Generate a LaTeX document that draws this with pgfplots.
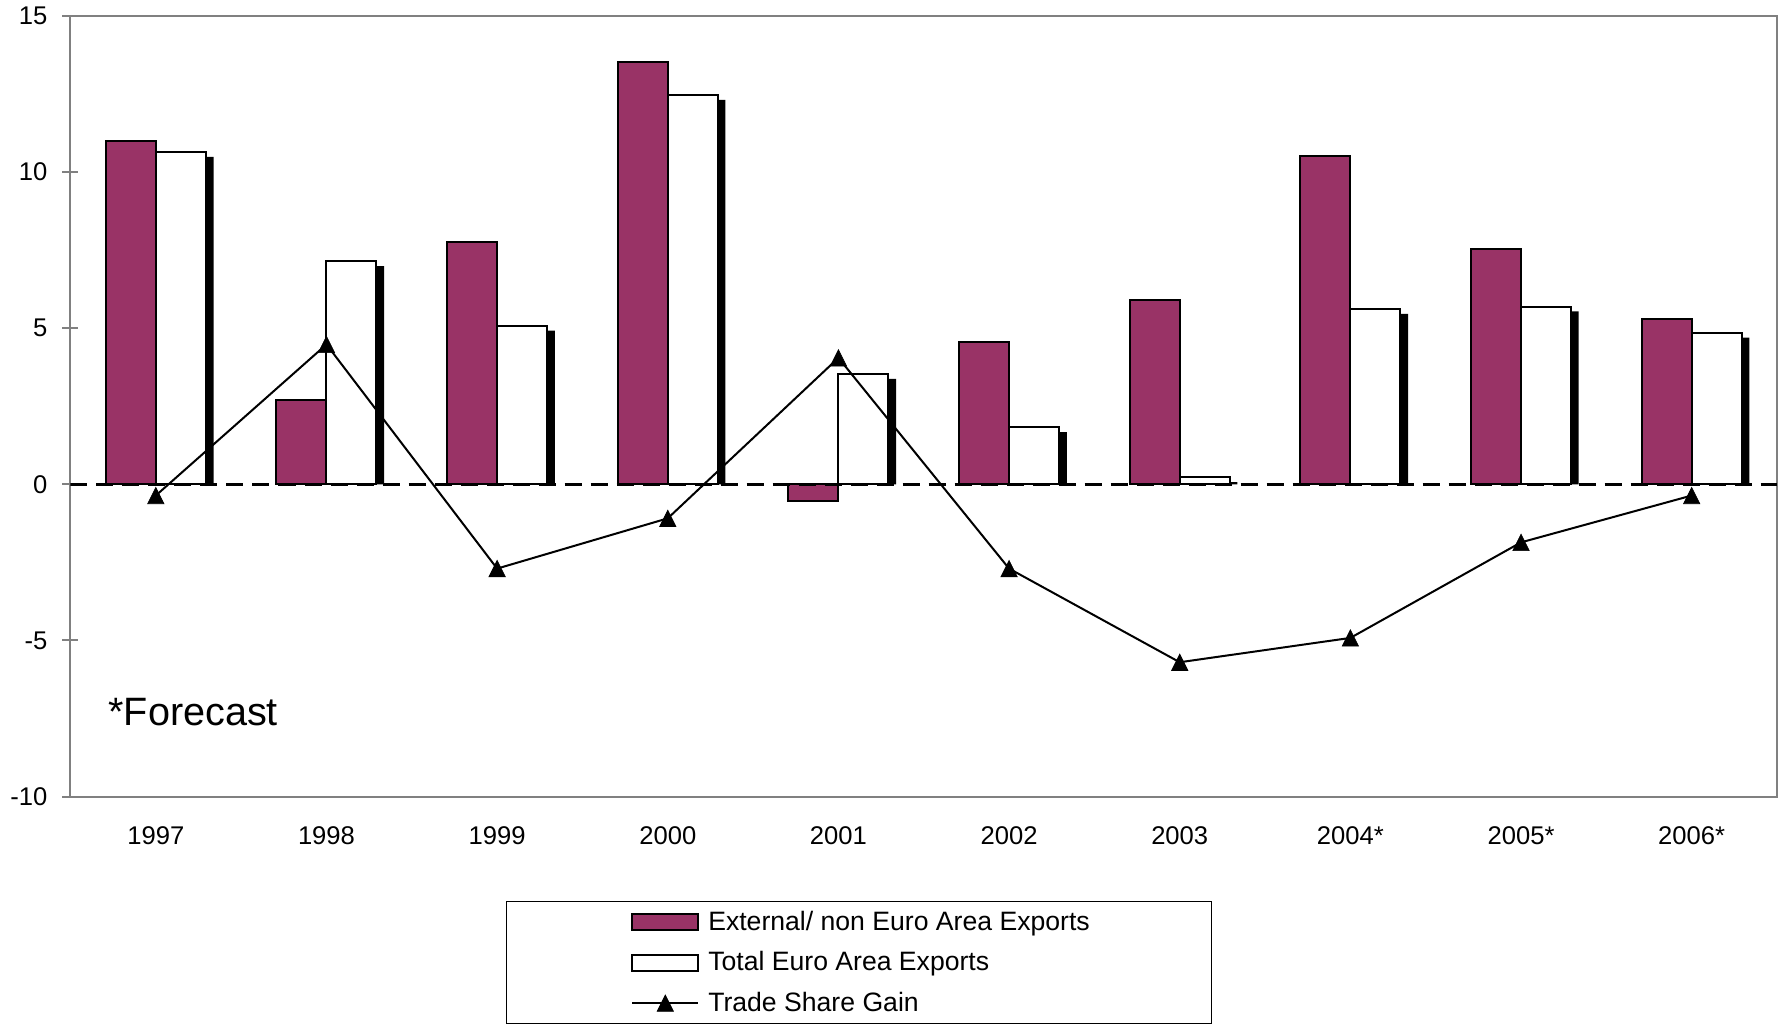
\documentclass[border=0pt]{standalone}
\usepackage{pgfplots}
\pgfplotsset{compat=1.18}
\usepackage{pgfplotstable}
\usepackage{fontspec}
\setmainfont{Liberation Sans}
\definecolor{plum}{RGB}{153,51,102}
\definecolor{axgray}{RGB}{128,128,128}

\pgfdeclareplotmark{xltri}{%
  \pgfpathmoveto{\pgfqpoint{0pt}{\pgfplotmarksize}}%
  \pgfpathlineto{\pgfqpoint{\pgfplotmarksize}{-\pgfplotmarksize}}%
  \pgfpathlineto{\pgfqpoint{-\pgfplotmarksize}{-\pgfplotmarksize}}%
  \pgfpathclose\pgfusepathqfillstroke}

\pgfplotsset{
  boxlegend/.style={legend image code/.code={\draw[##1] (0bp,-4bp) rectangle (33bp,4bp);}},
  linelegend/.style={legend image code/.code={\draw[mark repeat=2, mark phase=2, ##1] plot coordinates {(0bp,0bp) (16.5bp,0bp) (33bp,0bp)};}},
}

\pgfplotstableread{
x ext tot gain
0 11.00 10.64 -0.36
1 2.70 7.14 4.48
2 7.76 5.07 -2.70
3 13.52 12.46 -1.09
4 -0.55 3.53 4.05
5 4.56 1.82 -2.70
6 5.90 0.22 -5.70
7 10.53 5.61 -4.92
8 7.54 5.69 -1.86
9 5.28 4.85 -0.36
}\data

\begin{document}
\begin{tikzpicture}
\begin{axis}[
  scale only axis, width=853.25bp, height=390.25bp,
  xmin=-0.5, xmax=9.5, ymin=-10, ymax=15,
  xtick={0,...,9},
  xticklabels={1997,1998,1999,2000,2001,2002,2003,2004*,2005*,2006*},
  ytick={-10,-5,0,5,10,15},
  axis line style={axgray, line width=1bp},
  ytick pos=left, tick align=center, major tick length=8bp,
  y tick style={axgray, line width=1bp},
  x tick style={draw=none},
  tick label style={font=\fontsize{12.8bp}{15bp}\selectfont},
  xticklabel style={yshift=-7.5bp},
  yticklabel style={xshift=-4bp},
  /pgf/number format/assume math mode=true,
  legend style={at={(0.2552,-0.1339)}, anchor=north west, draw=black, line width=0.5bp,
    inner xsep=62.4bp, inner ysep=2.65bp, row sep=5.2bp,
    font=\fontsize{13.3bp}{16bp}\selectfont, cells={anchor=west}},
  legend cell align=left,
]
% shadow of white bars
\addplot[ybar, bar width=25bp, bar shift=16.35bp, fill=black, draw=none, forget plot]
  table[x=x, y expr=\thisrow{tot}-0.15] {\data};
\addplot[ybar, bar width=25bp, bar shift=-12.5bp, fill=plum, draw=black, line width=1bp, boxlegend]
  table[x=x, y=ext] {\data};
\addlegendentry{\hspace{2.5bp}\makebox[187bp][l]{External/ non Euro Area Exports}}
\addplot[ybar, bar width=25bp, bar shift=12.5bp, fill=white, draw=black, line width=1bp, boxlegend]
  table[x=x, y=tot] {\data};
\addlegendentry{\hspace{2.5bp}Total Euro Area Exports}
\addplot[black, line width=1.35bp, dash pattern=on 8.5bp off 4.5bp, forget plot]
  coordinates {(-0.5,0) (9.5,0)};
\addplot[black, line width=1bp, mark=xltri, mark size=4.1bp, mark options={solid, line width=0.3bp}, linelegend]
  table[x=x, y=gain] {\data};
\addlegendentry{\hspace{2.5bp}Trade Share Gain}
\node[anchor=west, inner sep=0pt, font=\fontsize{19.8bp}{23bp}\selectfont] at (axis cs:-0.28,-7.29) {*Forecast};
\end{axis}
\pgfresetboundingbox
\path[use as bounding box] (-35.25bp,-113.75bp) rectangle (856.75bp,398.25bp);
\end{tikzpicture}
\end{document}
